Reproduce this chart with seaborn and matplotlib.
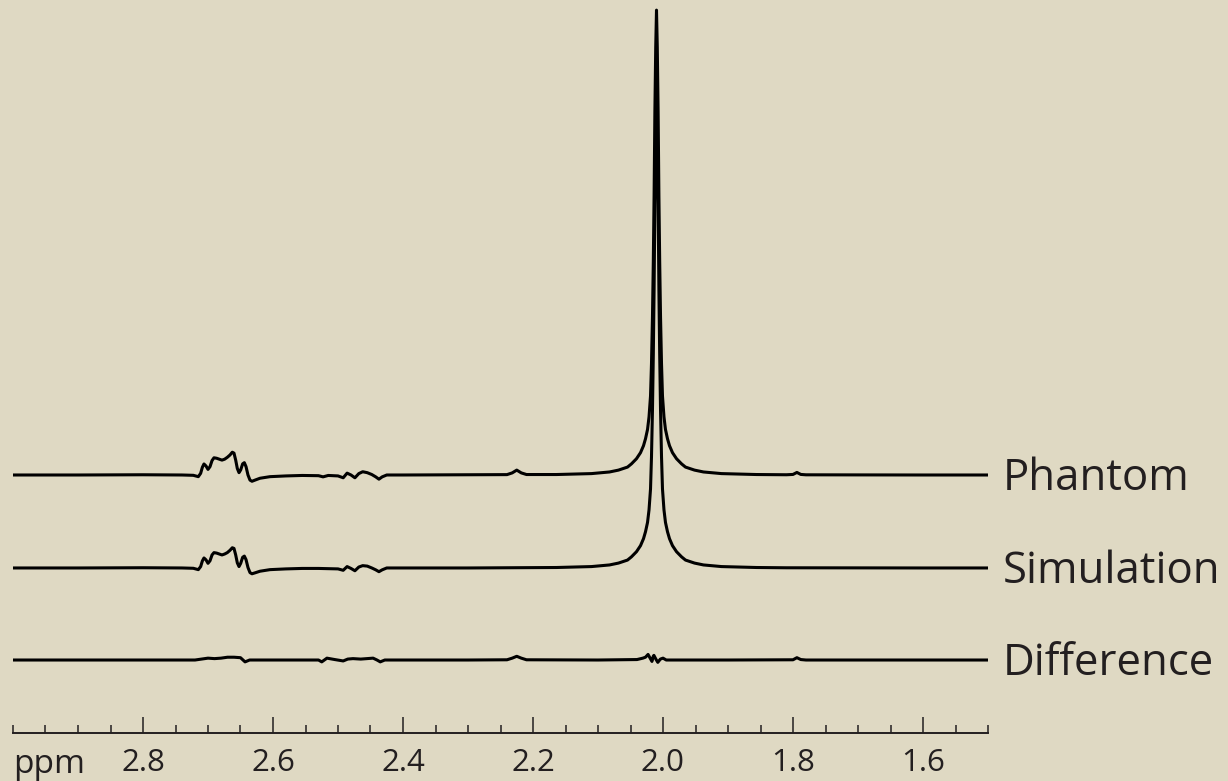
import numpy as np
import pandas as pd
import matplotlib
matplotlib.use("Agg")
import matplotlib.pyplot as plt
import matplotlib.transforms as mtransforms
from matplotlib.ticker import MultipleLocator, FixedLocator, FormatStrFormatter
import seaborn as sns

# ---------------- data ----------------
trace_names = ["Phantom", "Simulation", "Difference"]

# common ppm sampling of the 2.72-2.60 multiplet region
multiplet_ppm = [2.7226, 2.7149, 2.7113, 2.7087, 2.7062, 2.7031, 2.7000, 2.6969, 2.6938, 2.6908,
                 2.6867, 2.6826, 2.6785, 2.6744, 2.6703, 2.6662, 2.6626, 2.6600, 2.6574, 2.6549,
                 2.6523, 2.6497, 2.6467, 2.6441, 2.6415, 2.6385, 2.6354, 2.6323, 2.6277, 2.6200,
                 2.6046]
phantom_multiplet = [-0.07, -0.36, 0.36, 1.65, 2.37, 1.94, 1.2, 1.8, 3.1, 3.7,
                     3.6, 3.4, 3.2, 3.4, 3.8, 4.3, 4.9, 4.7, 3.2, 1.4,
                     0.5, 1.1, 2.4, 2.65, 1.8, 0.0, -1.1, -1.35, -1.1, -0.7,
                     -0.36]
simulation_multiplet = [-0.07, -0.36, 0.3, 1.5, 2.15, 1.75, 1.0, 1.55, 2.8, 3.3,
                        3.2, 3.0, 2.8, 3.0, 3.3, 3.8, 4.35, 4.2, 2.8, 1.1,
                        0.3, 1.0, 2.3, 2.55, 1.8, 0.1, -1.0, -1.25, -1.05, -0.7,
                        -0.36]

# the main singlet (~2.01 ppm), identical sampling for phantom and simulation
singlet_ppm = [2.1640, 2.1100, 2.0823, 2.0685, 2.0546, 2.0485, 2.0408, 2.0346, 2.0300, 2.0269,
               2.0238, 2.0215, 2.0192, 2.0177, 2.0162, 2.0149, 2.0137, 2.0125, 2.0112, 2.0100,
               2.0088, 2.0075, 2.0063, 2.0051, 2.0038, 2.0023, 2.0008, 1.9985, 1.9962, 1.9931,
               1.9900, 1.9854, 1.9792, 1.9715, 1.9654, 1.9515, 1.9377, 1.9100, 1.8562]
phantom_singlet = [0.1, 0.3, 0.65, 1.05, 1.7, 2.4, 3.5, 4.8, 6.3, 7.8,
                   9.8, 12.5, 17.0, 24.0, 34.0, 46.0, 60.0, 78.0, 92.0, 100.0,
                   92.0, 78.0, 60.0, 46.0, 34.0, 24.0, 17.0, 12.5, 9.8, 7.8,
                   6.3, 4.8, 3.5, 2.4, 1.7, 1.05, 0.65, 0.3, 0.1]
simulation_singlet = [0.1, 0.3, 0.65, 1.05, 1.7, 2.4, 3.5, 4.8, 6.3, 7.8,
                      9.8, 12.5, 17.0, 24.0, 34.0, 46.0, 60.0, 78.0, 92.0, 100.0,
                      92.0, 78.0, 60.0, 46.0, 34.0, 24.0, 17.0, 12.5, 9.8, 7.8,
                      6.3, 4.8, 3.5, 2.4, 1.7, 1.05, 0.65, 0.3, 0.1]

# remaining parts of each trace
phantom_other_ppm = [3.000, 2.900, 2.800, 2.740,
                     2.580, 2.555, 2.530, 2.523, 2.515, 2.500, 2.492, 2.486, 2.480, 2.474,
                     2.468, 2.462, 2.455, 2.448, 2.442, 2.437, 2.432, 2.425, 2.400, 2.300,
                     2.240, 2.232, 2.225, 2.218, 2.210,
                     1.810, 1.800, 1.794, 1.788, 1.780, 1.700, 1.600, 1.500]
phantom_other = [0.0, 0.0, 0.05, 0.0,
                 -0.2, -0.1, -0.15, -0.4, -0.1, -0.2, -0.6, 0.4, 0.0, -0.6,
                 0.3, 0.7, 0.5, 0.1, -0.4, -0.9, -0.4, 0.0, 0.0, 0.05,
                 0.08, 0.45, 1.05, 0.45, 0.1,
                 0.05, 0.12, 0.55, 0.12, 0.04, 0.02, 0.0, 0.0]

simulation_other_ppm = [3.000, 2.900, 2.800, 2.740,
                        2.580, 2.555, 2.530, 2.500, 2.492, 2.486, 2.480, 2.474, 2.468, 2.462,
                        2.455, 2.448, 2.442, 2.437, 2.432, 2.425, 2.400, 2.300,
                        1.810, 1.700, 1.600, 1.500]
simulation_other = [0.0, 0.0, 0.05, 0.0,
                    -0.2, -0.1, -0.1, -0.2, -0.5, 0.3, -0.1, -0.6, 0.2, 0.5,
                    0.4, 0.0, -0.4, -0.8, -0.4, 0.0, 0.0, 0.0,
                    0.04, 0.02, 0.0, 0.0]

difference_ppm = [3.000, 2.800, 2.720, 2.710, 2.700, 2.690, 2.680, 2.670, 2.660, 2.650,
                  2.643, 2.636, 2.600, 2.530, 2.525, 2.517, 2.505, 2.492, 2.485, 2.477,
                  2.465, 2.446, 2.440, 2.435, 2.428, 2.400, 2.300, 2.240, 2.232, 2.225,
                  2.218, 2.210, 2.100, 2.040, 2.031, 2.027, 2.023, 2.019, 2.017, 2.015,
                  2.014, 2.011, 2.008, 2.004, 2.000, 1.995, 1.900, 1.800, 1.794, 1.788,
                  1.780, 1.600, 1.500]
difference_int = [0.0, 0.0, 0.0, 0.2, 0.4, 0.3, 0.4, 0.6, 0.6, 0.5,
                  -0.4, 0.0, 0.0, 0.0, -0.4, 0.4, 0.1, -0.2, 0.2, 0.3,
                  0.2, 0.4, 0.0, -0.4, 0.0, 0.0, 0.0, 0.05, 0.4, 0.8,
                  0.4, 0.05, 0.0, 0.1, 0.4, 0.6, 1.2, 0.2, -0.3, 0.8,
                  1.0, 0.2, -0.5, 0.2, 0.4, 0.0, 0.0, 0.05, 0.5, 0.1,
                  0.0, 0.0, 0.0]

major_ticks = [2.8, 2.6, 2.4, 2.2, 2.0, 1.8, 1.6]
axis_unit = "ppm"

# ---------------- layout / style ----------------
BG = "#DFD9C3"
INK = "#231F20"
offsets = {"Phantom": 39.8, "Simulation": 19.8, "Difference": 0.0}

sns.set_theme(style="white")
plt.rcParams["font.family"] = ["Open Sans", "DejaVu Sans"]

W, H = 1228, 781
fig = plt.figure(figsize=(W / 100, H / 100), dpi=100, facecolor=BG)
ax = fig.add_axes([13 / W, (H - 733) / H, (988 - 13) / W, (733 - 5) / H])
ax.set_facecolor(BG)


def assemble(parts):
    p = np.concatenate([np.asarray(a, float) for a, _ in parts])
    v = np.concatenate([np.asarray(b, float) for _, b in parts])
    order = np.argsort(-p)
    return p[order], v[order]


series = {
    "Phantom": assemble([(phantom_other_ppm, phantom_other),
                         (multiplet_ppm, phantom_multiplet),
                         (singlet_ppm, phantom_singlet)]),
    "Simulation": assemble([(simulation_other_ppm, simulation_other),
                            (multiplet_ppm, simulation_multiplet),
                            (singlet_ppm, simulation_singlet)]),
    "Difference": assemble([(difference_ppm, difference_int)]),
}

frames = []
for name in trace_names:
    p, v = series[name]
    frames.append(pd.DataFrame({"ppm": p, "signal": v + offsets[name], "trace": name}))
df = pd.concat(frames, ignore_index=True)

sns.lineplot(data=df, x="ppm", y="signal", units="trace", estimator=None, sort=False,
             color="black", linewidth=2.2, ax=ax, legend=False)

ax.set_xlim(3.0, 1.5)
ax.set_ylim(-15.7, 140.9)

for s in ["left", "right", "top"]:
    ax.spines[s].set_visible(False)
ax.spines["bottom"].set_color(INK)
ax.spines["bottom"].set_linewidth(1.4)

ax.set_yticks([])
ax.xaxis.set_major_locator(FixedLocator(major_ticks))
ax.xaxis.set_minor_locator(MultipleLocator(0.05))
ax.xaxis.set_major_formatter(FormatStrFormatter("%.1f"))
ax.tick_params(axis="x", which="major", direction="in", length=11.5, width=1.1,
               color=INK, labelsize=22.5, labelcolor=INK, pad=11, bottom=True)
ax.tick_params(axis="x", which="minor", direction="in", length=5.5, width=1.1,
               color=INK, bottom=True)
ax.set_xlabel("")
ax.set_ylabel("")
ax.grid(False)

trans = mtransforms.blended_transform_factory(ax.transData, fig.transFigure)
ax.text(3.0, (H - 773) / H, axis_unit, transform=trans, ha="left", va="baseline",
        fontsize=24, color=INK, clip_on=False)

for name in trace_names:
    ax.text(1.478, offsets[name] - 3.2, name, ha="left", va="baseline",
            fontsize=31.5, color=INK, clip_on=False)

fig.savefig("out.png", dpi=100, facecolor=BG)
